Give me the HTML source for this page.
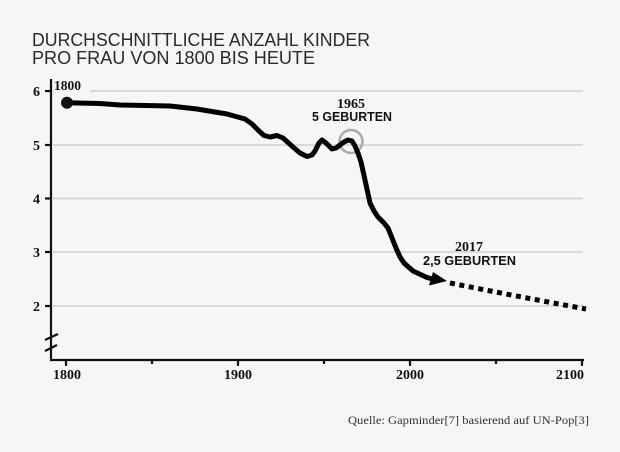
<!DOCTYPE html>
<html><head><meta charset="utf-8"><style>
html,body{margin:0;padding:0;background:#f6f6f6;}
svg{display:block;}
</style></head><body>
<svg width="620" height="452" viewBox="0 0 620 452" xmlns="http://www.w3.org/2000/svg">
<rect width="620" height="452" fill="#f6f6f6"/>
<!-- title -->
<text x="32" y="46" font-family="Liberation Sans, sans-serif" font-size="18" fill="#2a2a2a" textLength="338" lengthAdjust="spacingAndGlyphs">DURCHSCHNITTLICHE ANZAHL KINDER</text>
<text x="32" y="64" font-family="Liberation Sans, sans-serif" font-size="18" fill="#2a2a2a" textLength="283" lengthAdjust="spacingAndGlyphs">PRO FRAU VON 1800 BIS HEUTE</text>
<!-- gridlines -->
<g stroke="#cfcfcf" stroke-width="1.6">
<line x1="53" y1="91" x2="583" y2="91"/>
<line x1="53" y1="145" x2="583" y2="145"/>
<line x1="53" y1="198.5" x2="583" y2="198.5"/>
<line x1="53" y1="252" x2="583" y2="252"/>
<line x1="53" y1="306" x2="583" y2="306"/>
</g>
<rect x="54" y="80" width="36" height="12" fill="#f6f6f6"/>
<!-- axes -->
<g stroke="#111" stroke-width="2.2" fill="none">
<line x1="51" y1="79" x2="51" y2="361"/>
<line x1="50" y1="360" x2="584" y2="360"/>
<line x1="45" y1="91" x2="51" y2="91"/>
<line x1="45" y1="145" x2="51" y2="145"/>
<line x1="45" y1="198.5" x2="51" y2="198.5"/>
<line x1="45" y1="252" x2="51" y2="252"/>
<line x1="45" y1="306" x2="51" y2="306"/>
<line x1="66" y1="360" x2="66" y2="366"/>
<line x1="152" y1="360" x2="152" y2="364"/>
<line x1="238" y1="360" x2="238" y2="366"/>
<line x1="324" y1="360" x2="324" y2="364"/>
<line x1="410" y1="360" x2="410" y2="366"/>
<line x1="496" y1="360" x2="496" y2="364"/>
<line x1="582" y1="360" x2="582" y2="366"/>
<line x1="45" y1="340" x2="58" y2="334"/>
<line x1="45" y1="351" x2="57" y2="345"/>
</g>
<!-- y labels -->
<g font-family="Liberation Serif, serif" font-weight="bold" font-size="14" fill="#111" text-anchor="middle">
<text x="36.5" y="96">6</text>
<text x="36.5" y="150">5</text>
<text x="36.5" y="203.5">4</text>
<text x="36.5" y="257">3</text>
<text x="36.5" y="311">2</text>
<text x="67" y="379">1800</text>
<text x="238" y="379">1900</text>
<text x="410" y="379">2000</text>
<text x="570" y="379">2100</text>
</g>
<text x="54" y="90" font-family="Liberation Serif, serif" font-weight="bold" font-size="13.5" fill="#111">1800</text>
<!-- circle -->
<circle cx="351" cy="141.5" r="11.5" fill="none" stroke="#aaa" stroke-width="2.5"/>
<!-- curve -->
<polyline fill="none" stroke="#000" stroke-width="5" stroke-linejoin="round" stroke-linecap="round"
points="66,102.7 100,103.5 120,105 170,106 197,109 227,114 245,119 252,124 258,130 264,135.5 270,137 277,135.5 283,138 293,147 300,153 307,156.5 312,155 315,151 319,143 322,140 326,143 332,149 336,148 340,145 344,142 348,140 352,141 355,146 358,153 361,162 365,180 370,203 374,211 378,217 384,223 388,228 392,238 396,248 400,257 404,263 413,271 427,277.5 436,280"/>
<polygon points="433,272 429,285.5 447,281" fill="#000"/>
<circle cx="67" cy="102.7" r="6" fill="#111"/>
<!-- projection -->
<path d="M450,283 Q515,296 586,309" fill="none" stroke="#000" stroke-width="5" stroke-dasharray="5 4.6"/>
<!-- annotations -->
<text x="351" y="108" font-family="Liberation Serif, serif" font-weight="bold" font-size="14" fill="#111" text-anchor="middle">1965</text>
<text x="312" y="121" font-family="Liberation Sans, sans-serif" font-weight="bold" font-size="12.5" fill="#111" textLength="80" lengthAdjust="spacingAndGlyphs">5 GEBURTEN</text>
<text x="469" y="251" font-family="Liberation Serif, serif" font-weight="bold" font-size="14" fill="#111" text-anchor="middle">2017</text>
<text x="423" y="265" font-family="Liberation Sans, sans-serif" font-weight="bold" font-size="12.5" fill="#111" textLength="93" lengthAdjust="spacingAndGlyphs">2,5 GEBURTEN</text>
<!-- source -->
<text x="348" y="424" font-family="Liberation Serif, serif" font-size="12" fill="#333" textLength="241" lengthAdjust="spacingAndGlyphs">Quelle: Gapminder[7] basierend auf UN-Pop[3]</text>
</svg>
</body></html>
